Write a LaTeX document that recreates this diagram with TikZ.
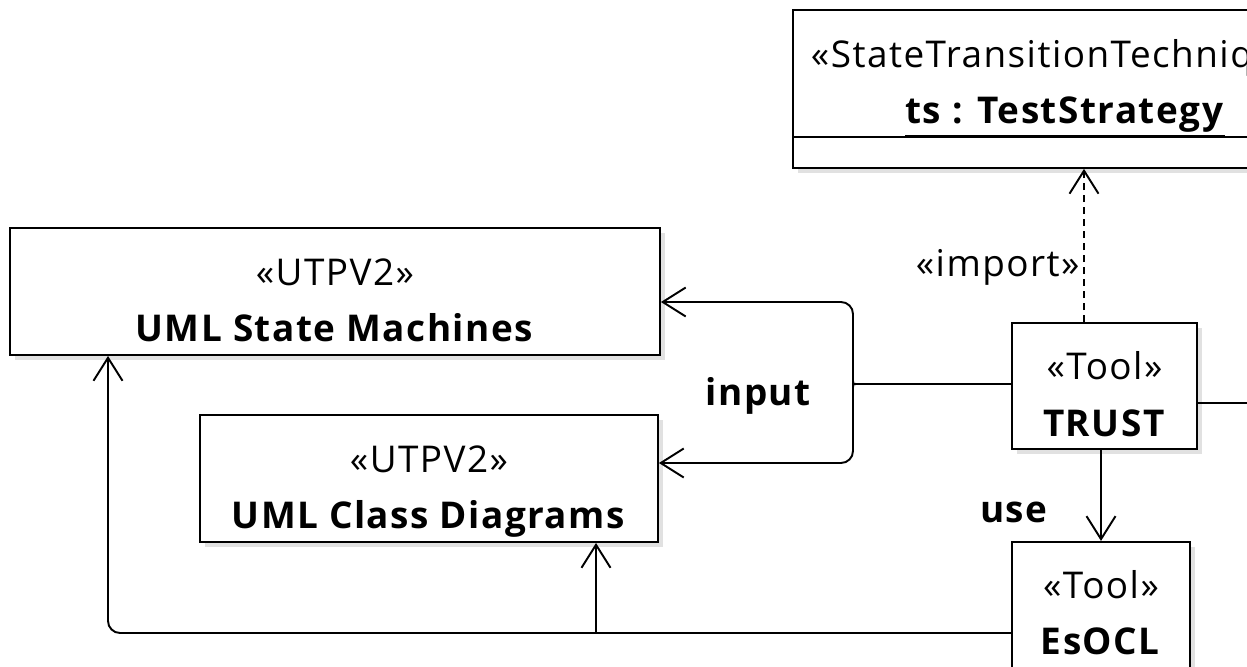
\documentclass[tikz,border=0pt]{standalone}
\usepackage{fontspec}
\setmainfont{Open Sans}[LetterSpace=4]
\usetikzlibrary{positioning,arrows.meta,calc,shadows}
\definecolor{umlline}{RGB}{0,0,0}
\definecolor{umlshade}{RGB}{170,170,170}
\tikzset{
  umlbox/.style={rectangle,draw=umlline,line width=1.1pt,fill=white,align=center,inner sep=0pt,text height=57pt,text depth=0pt,font=\fontsize{21}{32}\selectfont,drop shadow={shadow xshift=0.1cm,shadow yshift=-0.1cm,fill=umlshade,opacity=0.35}},
  modelbox/.style={umlbox,minimum height=2.54cm},
  toolbox/.style={umlbox,minimum width=3.7cm,minimum height=2.52cm},
  lbl/.style={font=\fontsize{21}{30}\selectfont,inner sep=2pt},
  plain/.style={line width=1.1pt,draw=umlline},
  edge/.style={plain,-{Straight Barb[length=0.46cm,width=0.58cm]}},
  dep/.style={edge,dash pattern=on 0.14cm off 0.1cm}
}
\begin{document}
\begin{tikzpicture}[x=0.02cm,y=-0.02cm,node distance=1.8cm]
  \useasboundingbox (0,0) rectangle (1247,666);
  \node[modelbox,minimum width=13cm] (sm) at (335,291.5) {«UTPV2»\\\textbf{UML State Machines}};
  \node[modelbox,minimum width=9.16cm] (cd) at (429,478.5) {«UTPV2»\\\textbf{UML Class Diagrams}};
  \node[toolbox] (trust) at (1104.5,386) {«Tool»\\\textbf{TRUST}};
  \node[toolbox,minimum width=3.56cm,below right=1.82cm and 0cm of trust.south west] (esocl) {«Tool»\\\textbf{EsOCL}};
  \node[modelbox,minimum width=10.88cm] (stt) at (1065,73.5) {«StateTransitionTechnique»\\\underline{\textbf{ts : TestStrategy}}};
  \node[rectangle,draw=umlline,line width=1.1pt,fill=white,drop shadow={shadow xshift=0.1cm,shadow yshift=-0.1cm,fill=umlshade,opacity=0.35},minimum width=10.88cm,minimum height=0.62cm,below=-0.04cm of stt] (sttops) {};
  \coordinate (fork) at (857,384);
  \coordinate (bus) at (596,633);
  \coordinate (bend) at (108,633);
  \coordinate (imp) at (1084,0);
  \coordinate (offright) at (1247,403);
  \node[lbl,left=0.82cm of fork,yshift=-0.24cm] (inlbl) {\textbf{input}};
  \draw[plain] (trust.west |- fork) -- (fork);
  \draw[edge,rounded corners=0.24cm] (fork) .. controls (853,384) .. (853,376) -- (853,302) -- ($(sm.east)+(0,10.5)$);
  \draw[edge,rounded corners=0.24cm] (fork) .. controls (853,384) .. (853,392) -- (853,463) -- ($(cd.east)+(0,-15.5)$);
  \draw[dep] (trust.north -| imp) -- node[lbl,left,pos=0.36] (implbl) {«import»} (sttops.south -| imp);
  \draw[edge] (esocl.north |- trust.south) -- node[lbl,left=0.95cm,pos=0.69] (uselbl) {\textbf{use}} (esocl.north);
  \draw[edge,rounded corners=0.24cm] (esocl.west |- bus) -- (bend) -- (bend |- sm.south);
  \draw[edge] (bus) -- (bus |- cd.south);
  \draw[plain] (trust.east |- offright) -- (offright);
\end{tikzpicture}
\end{document}
